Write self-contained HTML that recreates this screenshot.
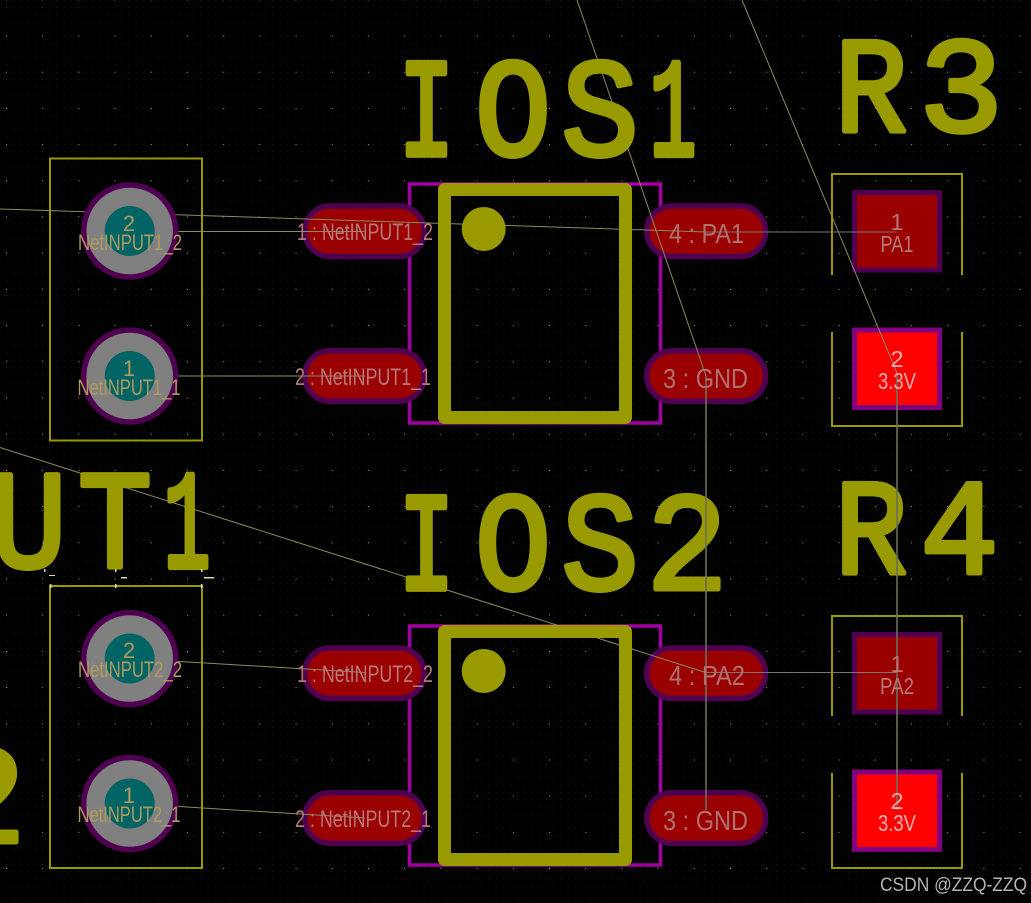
<!DOCTYPE html>
<html><head><meta charset="utf-8"><style>
html,body{margin:0;padding:0;background:#000;width:1031px;height:903px;overflow:hidden}
svg{display:block}
.big text{font-family:"Liberation Mono",monospace;font-size:140px;fill:#999900;stroke:#999900;stroke-width:5;stroke-linejoin:round;text-anchor:middle;vector-effect:non-scaling-stroke}
.p{font-family:"Liberation Sans",sans-serif;text-anchor:middle;fill:#b87878;font-size:24px}
.t{font-family:"Liberation Sans",sans-serif;text-anchor:middle;fill:#b09a5e;font-size:22px}
.l{font-family:"Liberation Sans",sans-serif;text-anchor:middle;fill:#b07070;font-size:28px}
.w{font-family:"Liberation Sans",sans-serif;text-anchor:middle;fill:#ffb0b0;font-size:23.5px}
.r{fill:none;stroke:#8a8a60;stroke-width:1}
.v{fill:none;stroke:#6e6e5c;stroke-width:1.6}
</style></head><body>
<svg width="1031" height="903" viewBox="0 0 1031 903" xmlns="http://www.w3.org/2000/svg">
<defs>
<pattern id="f" x="6" y="0" width="7.2" height="7.2" patternUnits="userSpaceOnUse"><rect width="1" height="1" fill="#1e1e1e"/></pattern>
<pattern id="g" x="6" y="35.5" width="36.2" height="36.2" patternUnits="userSpaceOnUse"><rect width="1" height="1" fill="#9a9a9a"/></pattern>
</defs>
<rect width="1031" height="903" fill="#000"/>
<rect width="1031" height="903" fill="url(#f)"/>
<rect width="1031" height="903" fill="url(#g)"/>

<!-- courtyard purple -->
<g fill="none" stroke="#a000a0" stroke-width="3.5">
<rect x="409.5" y="184" width="251" height="239"/>
<rect x="409.5" y="626" width="251" height="239"/>
</g>

<!-- oval pads -->
<g fill="#9b0000" stroke="#500050" stroke-width="5.5">
<rect x="304.7" y="206" width="119.5" height="50.5" rx="25.2"/>
<rect x="304.7" y="350.8" width="119.5" height="50.5" rx="25.2"/>
<rect x="304.7" y="648" width="119.5" height="50.5" rx="25.2"/>
<rect x="304.7" y="792.8" width="119.5" height="50.5" rx="25.2"/>
<rect x="646.7" y="206" width="119" height="50.5" rx="25.2"/>
<rect x="646.7" y="350.8" width="119" height="50.5" rx="25.2"/>
<rect x="646.7" y="648" width="119" height="50.5" rx="25.2"/>
<rect x="646.7" y="792.8" width="119" height="50.5" rx="25.2"/>
</g>

<!-- rect pads -->
<rect x="854.5" y="192.5" width="85" height="77.5" fill="#9b0000" stroke="#500050" stroke-width="5"/>
<rect x="854.5" y="330" width="85" height="77.5" fill="#ff0000" stroke="#800080" stroke-width="5"/>
<rect x="854.5" y="634.5" width="85" height="77.5" fill="#9b0000" stroke="#500050" stroke-width="5"/>
<rect x="854.5" y="772" width="85" height="77.5" fill="#ff0000" stroke="#800080" stroke-width="5"/>

<!-- ratsnest under silk -->
<g class="r">
<path d="M0 209L706 232"/>
<path d="M130 231.5L365 231.5"/>
<path d="M130 376L365 376"/>
<path d="M130 658.5L365 672.5"/>
<path d="M130 803.5L365 818"/>
<path d="M577 0L706 376"/>
<path d="M742 0L897 373"/>
<path d="M0 447.5L704 672"/>
<path d="M704 232L897 232" stroke="#77776a"/>
<path d="M704 672.5L897 672.5" stroke="#77776a"/>
</g>

<!-- through-hole pads -->
<g>
<circle cx="129.7" cy="231" r="46" fill="#808080" stroke="#500050" stroke-width="5.5"/>
<circle cx="129.7" cy="231" r="25" fill="#006464"/>
<circle cx="129.7" cy="376" r="46" fill="#808080" stroke="#500050" stroke-width="5.5"/>
<circle cx="129.7" cy="376" r="25" fill="#006464"/>
<circle cx="129.7" cy="658.5" r="46" fill="#808080" stroke="#500050" stroke-width="5.5"/>
<circle cx="129.7" cy="658.5" r="25" fill="#006464"/>
<circle cx="129.7" cy="803.5" r="46" fill="#808080" stroke="#500050" stroke-width="5.5"/>
<circle cx="129.7" cy="803.5" r="25" fill="#006464"/>
</g>

<!-- silkscreen outlines -->
<g fill="none" stroke="#999900" stroke-width="2">
<rect x="50" y="158.5" width="152" height="282"/>
<rect x="50" y="586" width="152" height="282"/>
<path d="M832 275V174H962V275"/>
<path d="M832 332V426H962V332"/>
<path d="M832 716V616H962V716"/>
<path d="M832 773V868H962V773"/>
</g>
<g fill="none" stroke="#999900" stroke-width="13" stroke-linejoin="round">
<rect x="444.5" y="189.5" width="181" height="228"/>
<rect x="444.5" y="631.5" width="181" height="228"/>
</g>
<circle cx="483.7" cy="229" r="22" fill="#999900"/>
<circle cx="483.7" cy="671" r="22" fill="#999900"/>

<!-- reference designators -->
<g class="big">
<text transform="translate(426.5,155) scale(.67,1)">I</text>
<text transform="translate(513,155) scale(.9,1)">O</text>
<text transform="translate(600,155) scale(.92,1)">S</text>
<text transform="translate(673,155) scale(.56,1)">1</text>
<text transform="translate(426.5,589) scale(.67,1)">I</text>
<text transform="translate(513,589) scale(.9,1)">O</text>
<text transform="translate(600,589) scale(.92,1)">S</text>
<text transform="translate(687,589) scale(.97,1)">2</text>
<text transform="translate(871,131) scale(.86,.97)">R</text>
<text transform="translate(961,131) scale(1.0,.97)">3</text>
<text transform="translate(871,573) scale(.86,.97)">R</text>
<text transform="translate(959.5,573) scale(.93,.97)">4</text>
<text transform="translate(28.5,567) scale(.92,1)">U</text>
<text transform="translate(115,567) scale(.88,1)">T</text>
<text transform="translate(187,567) scale(.56,1)">1</text>
<text transform="translate(-15,842) scale(.97,1)">2</text>
</g>

<!-- small marks under UT1 -->
<g fill="#ddd7b0">
<rect x="44" y="569" width="1.5" height="3"/><rect x="49" y="575" width="6" height="1"/>
<rect x="115" y="569" width="1.5" height="3"/><rect x="121" y="577" width="6" height="1.5"/>
<rect x="201" y="569" width="1.5" height="3"/><rect x="204" y="577" width="10" height="1.5"/>
<rect x="115" y="584" width="1.5" height="4"/><rect x="50" y="584" width="1.5" height="4"/><rect x="201" y="584" width="1.5" height="4"/>
</g>

<!-- verticals over silk -->
<g class="v">
<path d="M706 376V810"/>
<path d="M897 373V810"/>
</g>

<!-- labels -->
<text class="t" x="129" y="231">2</text>
<text class="t" x="130" y="250" textLength="104" lengthAdjust="spacingAndGlyphs">NetINPUT1_2</text>
<text class="t" x="129" y="376">1</text>
<text class="t" x="129" y="395" textLength="103" lengthAdjust="spacingAndGlyphs">NetINPUT1_1</text>
<text class="t" x="129" y="658">2</text>
<text class="t" x="130" y="677" textLength="104" lengthAdjust="spacingAndGlyphs">NetINPUT2_2</text>
<text class="t" x="129" y="803">1</text>
<text class="t" x="129" y="822" textLength="103" lengthAdjust="spacingAndGlyphs">NetINPUT2_1</text>

<text class="p" x="365" y="240" textLength="136" lengthAdjust="spacingAndGlyphs">1 : NetINPUT1_2</text>
<text class="p" x="363" y="385" textLength="136" lengthAdjust="spacingAndGlyphs">2 : NetINPUT1_1</text>
<text class="p" x="365" y="682" textLength="136" lengthAdjust="spacingAndGlyphs">1 : NetINPUT2_2</text>
<text class="p" x="363" y="827" textLength="136" lengthAdjust="spacingAndGlyphs">2 : NetINPUT2_1</text>

<text class="l" x="706.5" y="243" textLength="75" lengthAdjust="spacingAndGlyphs">4 : PA1</text>
<text class="l" x="705.5" y="388" textLength="85" lengthAdjust="spacingAndGlyphs">3 : GND</text>
<text class="l" x="707" y="685" textLength="76" lengthAdjust="spacingAndGlyphs">4 : PA2</text>
<text class="l" x="705.5" y="830" textLength="85" lengthAdjust="spacingAndGlyphs">3 : GND</text>

<text class="w" style="fill:#b87878" x="897" y="230">1</text>
<text class="w" style="fill:#b87878" x="897" y="252" textLength="33" lengthAdjust="spacingAndGlyphs">PA1</text>
<text class="w" x="897" y="367">2</text>
<text class="w" x="897" y="389" textLength="38" lengthAdjust="spacingAndGlyphs">3.3V</text>
<text class="w" style="fill:#b87878" x="897" y="672">1</text>
<text class="w" style="fill:#b87878" x="897" y="694" textLength="34" lengthAdjust="spacingAndGlyphs">PA2</text>
<text class="w" x="897" y="809">2</text>
<text class="w" x="897" y="831" textLength="38" lengthAdjust="spacingAndGlyphs">3.3V</text>

<text x="1027" y="891" font-family="'Liberation Sans',sans-serif" font-size="19" fill="#b4b4b4" text-anchor="end" textLength="147" lengthAdjust="spacingAndGlyphs">CSDN @ZZQ-ZZQ</text>
</svg>
</body></html>
